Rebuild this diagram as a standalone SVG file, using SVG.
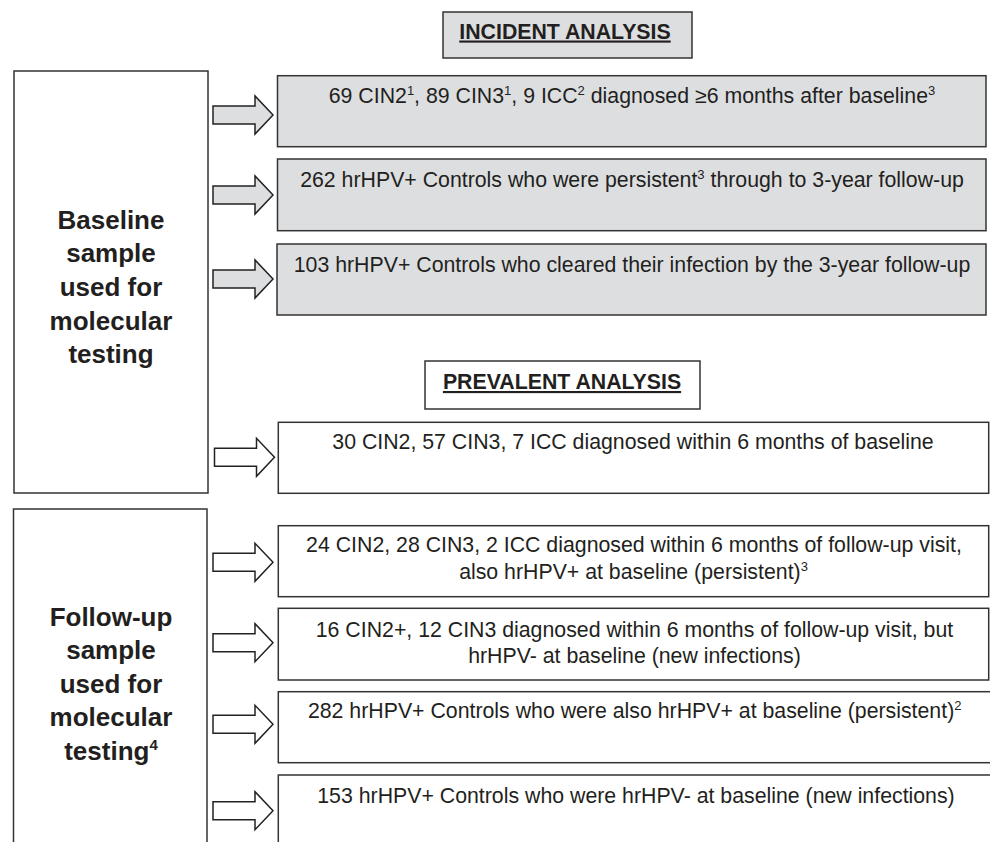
<svg xmlns="http://www.w3.org/2000/svg" width="990" height="842" viewBox="0 0 990 842">
<style>
  .box { stroke: #333; stroke-width: 1.5; }
  .gray { fill: #dddee0; }
  .white { fill: #ffffff; }
  .t { font-family: "Liberation Sans", Arial, sans-serif; font-size: 21.3px; fill: #231f20; text-anchor: middle; }
  .hdr { font-family: "Liberation Sans", Arial, sans-serif; font-size: 21.3px; font-weight: bold; fill: #231f20; text-anchor: middle; text-decoration: underline; }
  .side { font-family: "Liberation Sans", Arial, sans-serif; font-size: 26px; font-weight: bold; fill: #231f20; text-anchor: middle; }
  .sup { font-size: 13px; }
  .arrow { stroke: #222; stroke-width: 1.5; stroke-linejoin: miter; }
</style>
<defs>
  <path id="arr" d="M0,-9 L42,-9 L42,-19 L60,0 L42,19 L42,9 L0,9 Z"/>
</defs>
<rect width="990" height="842" fill="#ffffff"/>

<g id="left-baseline">
  <rect class="box white" x="14" y="71" width="194" height="422"/>
  <text class="side" x="111" y="229">Baseline</text>
  <text class="side" x="111" y="262">sample</text>
  <text class="side" x="111" y="296">used for</text>
  <text class="side" x="111" y="330">molecular</text>
  <text class="side" x="111" y="363">testing</text>
</g>

<g id="left-followup">
  <rect class="box white" x="13.5" y="509" width="193.5" height="345"/>
  <text class="side" x="111" y="626">Follow-up</text>
  <text class="side" x="111" y="659">sample</text>
  <text class="side" x="111" y="693">used for</text>
  <text class="side" x="111" y="726">molecular</text>
  <text class="side" x="111" y="760">testing<tspan font-size="15" dy="-10">4</tspan></text>
</g>

<g id="hdr-incident">
  <rect class="box gray" x="443" y="12" width="249" height="46"/>
  <text class="hdr" x="565" y="38.5">INCIDENT ANALYSIS</text>
</g>

<g id="hdr-prevalent">
  <rect class="box white" x="425" y="361" width="275" height="48"/>
  <text class="hdr" x="562" y="389">PREVALENT ANALYSIS</text>
</g>

<g id="inc1">
  <rect class="box gray" x="277.5" y="75.7" width="708.5" height="71"/>
  <text class="t" x="632" y="102.7">69 CIN2<tspan class="sup" dy="-8">1</tspan><tspan dy="8">, 89 CIN3</tspan><tspan class="sup" dy="-8">1</tspan><tspan dy="8">, 9 ICC</tspan><tspan class="sup" dy="-8">2</tspan><tspan dy="8"> diagnosed ≥6 months after baseline</tspan><tspan class="sup" dy="-8">3</tspan></text>
</g>

<g id="inc2">
  <rect class="box gray" x="277.5" y="159" width="708.5" height="71.7"/>
  <text class="t" x="632" y="186.7">262 hrHPV+ Controls who were persistent<tspan class="sup" dy="-8">3</tspan><tspan dy="8"> through to 3-year follow-up</tspan></text>
</g>

<g id="inc3">
  <rect class="box gray" x="277" y="244" width="709" height="71"/>
  <text class="t" x="632" y="271.7">103 hrHPV+ Controls who cleared their infection by the 3-year follow-up</text>
</g>

<g id="prev1">
  <rect class="box white" x="278.3" y="422.3" width="710.4" height="71"/>
  <text class="t" x="633" y="449.3">30 CIN2, 57 CIN3, 7 ICC diagnosed within 6 months of baseline</text>
</g>

<g id="fu1">
  <rect class="box white" x="278.3" y="525.7" width="710.4" height="71"/>
  <text class="t" x="634" y="551.7">24 CIN2, 28 CIN3, 2 ICC diagnosed within 6 months of follow-up visit,</text>
  <text class="t" x="633.5" y="579.3">also hrHPV+ at baseline (persistent)<tspan class="sup" dy="-8">3</tspan></text>
</g>

<g id="fu2">
  <rect class="box white" x="278.3" y="608.3" width="710.4" height="71.7"/>
  <text class="t" x="634.5" y="636.7">16 CIN2+, 12 CIN3 diagnosed within 6 months of follow-up visit, but</text>
  <text class="t" x="634.5" y="662.7">hrHPV- at baseline (new infections)</text>
</g>

<g id="fu3">
  <rect class="box white" x="278.3" y="691.7" width="730" height="71"/>
  <text class="t" x="634.7" y="718.3">282 hrHPV+ Controls who were also hrHPV+ at baseline (persistent)<tspan class="sup" dy="-8">2</tspan></text>
</g>

<g id="fu4">
  <rect class="box white" x="278.3" y="775" width="730" height="90"/>
  <text class="t" x="636" y="803.3">153 hrHPV+ Controls who were hrHPV- at baseline (new infections)</text>
</g>

<g id="connectors">
  <use href="#arr" class="arrow" fill="#dddee0" x="213" y="115"/>
  <use href="#arr" class="arrow" fill="#dddee0" x="213" y="195"/>
  <use href="#arr" class="arrow" fill="#dddee0" x="213" y="279"/>
  <use href="#arr" class="arrow" fill="#ffffff" x="214.5" y="457.3"/>
  <use href="#arr" class="arrow" fill="#ffffff" x="213" y="562.3"/>
  <use href="#arr" class="arrow" fill="#ffffff" x="213" y="642.7"/>
  <use href="#arr" class="arrow" fill="#ffffff" x="213" y="724.3"/>
  <use href="#arr" class="arrow" fill="#ffffff" x="213" y="810.7"/>
</g>
</svg>
